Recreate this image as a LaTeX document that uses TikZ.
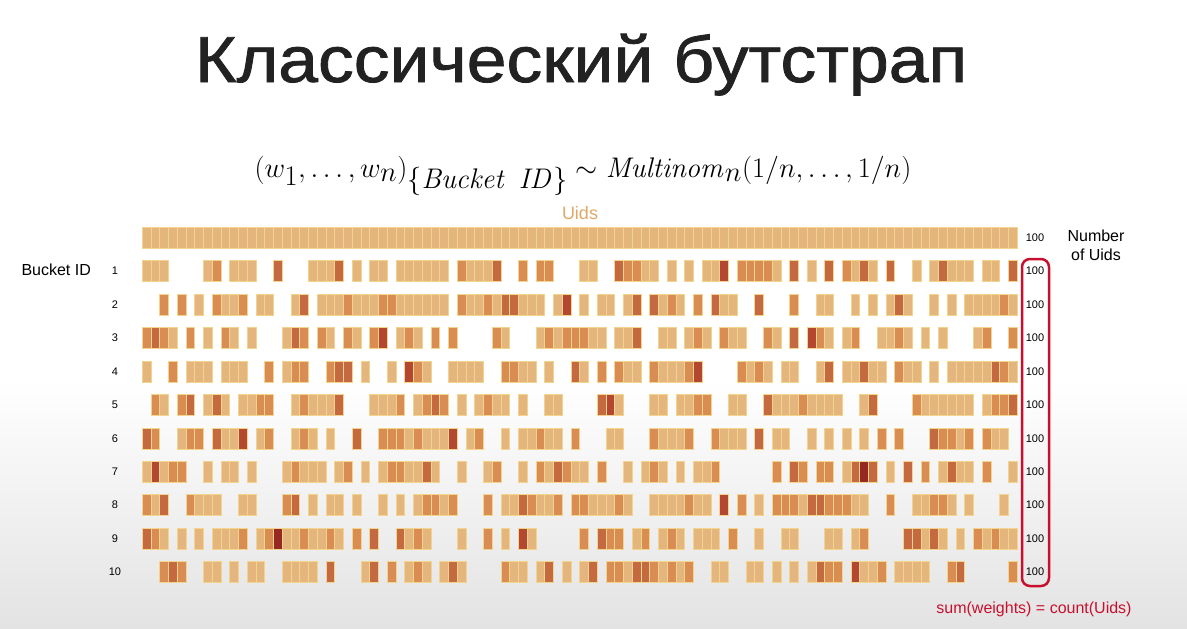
\documentclass[tikz,border=0pt]{standalone}
\usepackage[no-math]{fontspec}
\setmainfont{Liberation Sans}
\definecolor{w1}{HTML}{E5B57E}
\definecolor{w2}{HTML}{D98D52}
\definecolor{w3}{HTML}{C56A40}
\definecolor{w4}{HTML}{B4472F}
\definecolor{w5}{HTML}{962A22}
\definecolor{cellline}{HTML}{F2D48C}
\definecolor{uidsorange}{HTML}{E0A868}
\definecolor{sumred}{HTML}{C8102E}
\definecolor{titlegray}{HTML}{222222}

\begin{document}
\begin{tikzpicture}[x=1pt, y=-1pt,
    cell/.style={draw=cellline, line width=0.5pt},
    small/.style={font=\fontsize{11}{13}\selectfont},
    label/.style={font=\fontsize{16}{19}\selectfont}]
    % Background
    \useasboundingbox (0,0) rectangle (1187,629);
    \fill[white] (0,0) rectangle (1187,629);
    \shade[top color=white, bottom color=black!11] (0,380) rectangle (1187,629);

    % Title and formula
    \node[anchor=base, text=titlegray] (title) at (581,82) {\scalebox{1.1}[1]{\fontsize{65}{75}\selectfont\addfontfeature{FakeBold=1.2}Классический бутстрап}};
    \node[anchor=base] (formula) at (583,177) {\scalebox{1.14}{\fontsize{40}{44}\selectfont $(w_1,\ldots,w_n)_{\{\mathit{Bucket\ ID}\}} \sim \mathit{Multinom}_n(1/n,\ldots,1/n)$}};

    % Uids row
    \node[anchor=base, font=\fontsize{18}{21}\selectfont, text=uidsorange] (uids) at (580,219) {Uids};
    \foreach \c in {0,...,99}
        \filldraw[cell, fill=w1] ({142+8.75*\c},227.5) rectangle +(8.75,20.7);

    % Bucket rows, one weight per Uid
    \foreach \row [count=\r from 0] in {
        {1,1,1,0,0,0,0,1,2,0,1,1,1,0,0,3,0,0,0,1,1,1,3,0,1,0,1,1,0,1,1,1,1,1,1,0,2,1,1,1,3,0,0,2,0,2,2,0,0,0,1,1,0,0,3,2,2,1,1,0,1,0,1,0,1,1,4,0,2,2,2,2,1,0,3,0,1,0,3,0,2,1,3,1,0,3,0,0,1,0,1,3,1,1,1,0,1,1,0,3},
        {0,0,2,0,2,0,1,0,2,1,1,2,0,1,1,0,0,1,3,0,1,1,1,2,1,1,1,2,2,1,1,1,1,1,1,0,2,1,1,2,1,3,3,1,1,1,0,1,4,0,1,0,1,1,0,1,3,0,3,1,2,1,0,2,0,3,1,1,0,0,3,0,0,0,2,0,0,1,1,0,0,1,0,1,0,1,3,1,0,0,1,0,1,0,1,1,1,1,2,1},
        {2,3,2,1,0,2,0,1,0,2,1,0,1,0,0,0,1,3,2,0,2,1,0,2,1,0,2,4,0,1,2,1,0,2,0,2,0,0,0,0,2,1,0,0,0,1,2,1,2,2,2,1,1,0,1,1,3,0,0,1,1,0,1,2,1,0,2,1,1,0,0,2,1,0,3,0,4,2,1,0,1,2,0,0,1,1,2,1,0,1,0,1,0,0,0,1,2,0,0,2},
        {1,0,0,2,0,1,1,1,0,1,1,1,0,0,2,0,1,2,2,0,0,2,3,3,0,1,0,0,1,0,4,2,1,0,0,1,1,1,1,0,0,2,2,1,1,0,1,0,0,3,1,0,2,0,2,1,1,0,2,1,1,1,2,4,0,0,0,0,2,1,2,1,0,1,1,0,0,1,3,0,1,1,3,1,1,0,2,1,1,0,1,0,1,1,1,1,1,3,2,1},
        {0,2,1,0,2,3,0,1,3,1,0,1,1,2,2,0,0,1,2,1,1,1,3,0,0,0,1,1,1,2,0,1,2,3,2,0,1,0,1,2,1,1,0,1,0,0,1,1,0,0,0,0,3,4,1,0,0,0,1,1,0,1,1,2,2,0,0,1,1,0,0,3,1,1,1,2,1,1,1,1,0,0,1,3,0,0,0,0,2,1,1,1,1,1,1,0,1,2,2,3},
        {3,2,0,0,1,2,2,0,3,1,1,4,0,1,2,0,0,1,2,1,0,1,0,0,3,0,0,2,2,2,1,2,1,1,1,4,0,1,2,0,0,1,0,1,1,2,1,1,0,2,0,0,0,1,1,0,0,0,2,1,1,1,2,0,0,2,1,1,1,0,3,0,1,1,0,0,1,0,1,0,1,0,1,0,2,0,2,0,0,0,3,2,2,1,2,0,2,1,1,0},
        {1,4,1,2,2,0,0,1,0,1,1,0,1,0,0,0,1,2,1,1,1,0,1,2,0,1,0,1,2,2,1,1,3,1,0,0,1,0,0,1,2,0,0,1,0,2,1,3,2,1,1,0,2,0,0,1,0,1,2,1,0,1,0,1,1,2,0,0,0,0,0,0,2,0,3,2,0,2,2,0,1,3,5,3,0,1,0,3,0,2,0,1,3,1,1,0,2,0,0,1},
        {2,1,3,0,0,2,1,1,1,0,0,1,1,0,0,0,2,3,0,1,0,1,1,0,1,0,0,1,0,1,0,1,2,2,1,2,0,0,0,2,0,1,1,3,2,1,1,2,0,2,2,1,1,1,2,1,0,0,1,1,1,1,2,1,1,0,4,0,2,0,1,0,2,2,2,1,3,3,2,2,2,1,1,0,0,2,0,0,1,1,2,2,1,0,1,0,0,0,1,0},
        {3,2,1,0,1,0,1,0,1,1,1,2,0,1,2,5,1,1,2,1,1,2,1,0,2,0,3,0,0,3,1,2,1,0,0,0,1,0,0,2,0,1,0,4,1,0,0,0,0,0,2,0,3,2,2,0,1,2,0,1,2,1,0,1,1,1,0,2,0,0,1,0,0,1,1,0,0,0,1,1,0,1,2,0,0,0,0,3,3,1,3,1,0,1,0,2,1,2,1,1},
        {0,0,2,3,2,0,0,1,1,0,1,0,1,1,0,0,1,1,1,1,0,3,0,0,0,1,3,0,2,0,1,2,1,0,1,3,1,0,0,0,0,2,1,1,0,1,3,0,1,0,1,3,0,2,2,1,3,3,2,1,2,1,2,0,0,1,1,0,0,1,1,0,1,0,1,0,1,3,2,2,0,4,1,1,2,0,1,1,1,1,0,0,2,3,0,0,0,0,0,2}} {
        \foreach \w [count=\c from 0] in \row {
            \ifnum\w>0
                \filldraw[cell, fill=w\w] ({142+8.75*\c},{260.5+33.45*\r}) rectangle +(8.75,21);
            \fi
        }
    }

    % Row labels and counts
    \node[anchor=west, label] (bucketid) at (18,270) {Bucket ID};
    \foreach \r in {1,...,10}
        \node[small] (id\r) at (115,{271+33.45*(\r-1)}) {\r};
    \node[small] (n0) at (1035,237.5) {100};
    \foreach \r in {1,...,10}
        \node[small] (n\r) at (1035,{271+33.45*(\r-1)}) {100};
    \node[label, align=center] (numuids) at (1096,245) {Number\\of Uids};

    % Sum box
    \draw[sumred, line width=2.5pt, rounded corners=8pt] (1022,259) rectangle (1049,586);
    \node[label, text=sumred] (sumnote) at (1034,609) {sum(weights) = count(Uids)};
\end{tikzpicture}
\end{document}
